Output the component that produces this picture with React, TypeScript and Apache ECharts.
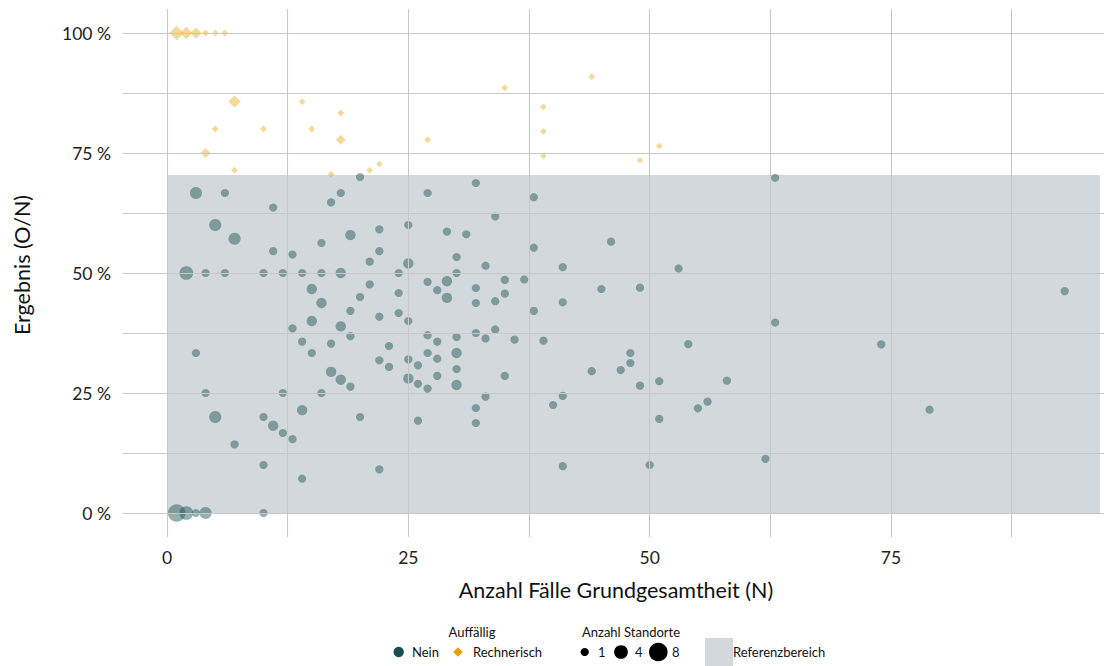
import React, { useEffect, useRef } from "react";
import * as echarts from "echarts";

// Auffällig = Nein : [N, O, Anzahl Standorte]
const neinN = [1, 2, 2, 3, 3, 3, 4, 4, 4, 5, 5, 6, 6, 7, 7, 10, 10, 10, 10, 11, 11, 11, 12, 12, 12, 13, 13, 13, 14, 14, 14, 14, 15, 15, 15, 16, 16, 16, 16, 17, 17, 17, 18, 18, 18, 18, 19, 19, 19, 19, 20, 20, 20, 21, 21, 22, 22, 22, 22, 22, 23, 23, 24, 24, 24, 25, 25, 25, 25, 25, 26, 26, 26, 27, 27, 27, 27, 27, 28, 28, 28, 28, 29, 29, 29, 30, 30, 30, 30, 30, 30, 31, 32, 32, 32, 32, 32, 32, 33, 33, 33, 34, 34, 34, 35, 35, 35, 36, 37, 38, 38, 38, 39, 40, 41, 41, 41, 41, 44, 45, 46, 47, 48, 48, 49, 49, 50, 51, 51, 53, 54, 55, 56, 58, 62, 63, 63, 74, 79, 93];
const neinO = [0, 0, 1, 0, 1, 2, 0, 1, 2, 1, 3, 3, 4, 1, 4, 0, 1, 2, 5, 2, 6, 7, 2, 3, 6, 2, 5, 7, 1, 3, 5, 7, 5, 6, 7, 4, 7, 8, 9, 5, 6, 11, 5, 7, 9, 12, 5, 7, 8, 11, 4, 9, 14, 10, 11, 2, 7, 9, 12, 13, 7, 8, 10, 11, 12, 7, 8, 10, 13, 15, 5, 7, 8, 7, 9, 10, 13, 18, 8, 9, 10, 13, 13, 14, 17, 8, 9, 10, 11, 15, 16, 18, 6, 7, 12, 14, 15, 22, 8, 12, 17, 13, 15, 21, 10, 16, 17, 13, 18, 16, 21, 25, 14, 9, 4, 10, 18, 21, 13, 21, 26, 14, 15, 16, 13, 23, 5, 10, 14, 27, 19, 12, 13, 16, 7, 25, 44, 26, 17, 43];
const neinSites = [7, 4, 4, 1, 1, 3, 3, 1, 1, 3, 3, 1, 1, 1, 3, 1, 1, 1, 1, 2, 1, 1, 1, 1, 1, 1, 1, 1, 1, 2, 1, 1, 1, 2, 2, 1, 2, 1, 1, 2, 1, 1, 2, 2, 2, 1, 1, 1, 1, 2, 1, 1, 1, 1, 1, 1, 1, 1, 1, 1, 1, 1, 1, 1, 1, 2, 1, 1, 2, 1, 1, 1, 1, 1, 1, 1, 1, 1, 1, 1, 1, 1, 2, 2, 1, 2, 1, 2, 1, 1, 1, 1, 1, 1, 1, 1, 1, 1, 1, 1, 1, 1, 1, 1, 1, 1, 1, 1, 1, 1, 1, 1, 1, 1, 1, 1, 1, 1, 1, 1, 1, 1, 1, 1, 1, 1, 1, 1, 1, 1, 1, 1, 1, 1, 1, 1, 1, 1, 1, 1];

// Auffällig = Rechnerisch : [N, O, Anzahl Standorte]
const rechN = [1, 2, 3, 4, 5, 6, 7, 14, 18, 5, 10, 15, 18, 4, 7, 17, 21, 22, 27, 35, 39, 39, 39, 44, 49, 51];
const rechO = [1, 2, 3, 4, 5, 6, 6, 12, 15, 4, 8, 12, 14, 3, 5, 12, 15, 16, 21, 31, 33, 31, 29, 40, 36, 39];
const rechSites = [7, 5, 4, 1, 1, 1, 5, 1, 1, 1, 1, 1, 3, 3, 1, 1, 1, 1, 1, 1, 1, 1, 1, 1, 1, 1];

// Referenzbereich
const refX = [0, 96.65];
const refY = [0, 70.4];

// Axes
const xTicks = [0, 25, 50, 75];
const yTicks = [0, 25, 50, 75, 100];
const xGrid = [0, 12.5, 25, 37.5, 50, 62.5, 75, 87.5];
const yGrid = [0, 12.5, 25, 37.5, 50, 62.5, 75, 87.5, 100];
const legendSizes = [1, 4, 8];

const TEAL = "#17504f";
const ORANGE = "#E69F00";
const REF = "rgba(82,102,118,0.255)";
const FONT = "Lato";

const circleD = (n: number) => Math.sqrt(28 + 40 * n);
const diamondD = (n: number) => 0.82 * circleD(n);

export default function App() {
  const ref = useRef<HTMLDivElement>(null);
  useEffect(() => {
    if (!ref.current) return;
    const chart = echarts.init(ref.current, undefined, { renderer: "svg" });
    const nein = neinN.map((n, i) => [n, (neinO[i] / n) * 100, neinSites[i]]);
    const rech = rechN.map((n, i) => [n, (rechO[i] / n) * 100, rechSites[i]]);

    const legendY = 652;
    const legendCx = [584.7, 621, 658.3];
    const legendTx = [598, 635, 672];
    const lg = { fontSize: 13, fontFamily: FONT, fill: "#111", verticalAlign: "middle" };

    chart.setOption({
      animation: false,
      textStyle: { fontFamily: FONT },
      grid: { left: 123, right: 0, top: 9, bottom: 129, containLabel: false },
      xAxis: {
        type: "value",
        min: -4.558,
        max: 97.07,
        axisLine: { show: false },
        axisTick: { show: false },
        splitLine: { show: false },
        axisLabel: {
          customValues: xTicks,
          fontSize: 17.5,
          color: "#222",
          fontFamily: FONT,
          margin: 11,
        },
      },
      yAxis: {
        type: "value",
        min: -5,
        max: 105,
        axisLine: { show: false },
        axisTick: { show: false },
        splitLine: { show: false },
        axisLabel: {
          customValues: yTicks,
          fontSize: 17.5,
          color: "#222",
          fontFamily: FONT,
          margin: 12,
          formatter: (v: number) => `${v} %`,
        },
      },
      series: [
        {
          type: "scatter",
          data: [],
          z: 1,
          silent: true,
          markLine: {
            silent: true,
            symbol: "none",
            label: { show: false },
            lineStyle: { color: "#c8c8c8", width: 1.1, type: "solid" },
            data: [
              ...xGrid.map((v) => ({ xAxis: v })),
              ...yGrid.map((v) => ({ yAxis: v })),
            ],
          },
        },
        {
          type: "scatter",
          data: [],
          z: 2,
          silent: true,
          markArea: {
            silent: true,
            itemStyle: { color: REF },
            data: [[{ xAxis: refX[0], yAxis: refY[0] }, { xAxis: refX[1], yAxis: refY[1] }]],
          },
        },
        {
          type: "scatter",
          name: "Nein",
          z: 3,
          data: nein,
          symbol: "circle",
          symbolSize: (v: number[]) => circleD(v[2]),
          itemStyle: { color: TEAL, opacity: 0.45 },
        },
        {
          type: "scatter",
          name: "Rechnerisch",
          z: 3,
          data: rech,
          symbol: "diamond",
          symbolSize: (v: number[]) => diamondD(v[2]),
          itemStyle: { color: ORANGE, opacity: 0.4 },
        },
      ],
      graphic: [
        {
          type: "text",
          x: 22,
          y: 265,
          rotation: Math.PI / 2,
          style: {
            text: "Ergebnis (O/N)",
            fontSize: 21.5,
            fontFamily: FONT,
            fill: "#111",
            align: "center",
            verticalAlign: "middle",
          },
        },
        {
          type: "text",
          x: 616,
          y: 590,
          style: {
            text: "Anzahl Fälle Grundgesamtheit (N)",
            fontSize: 21.5,
            fontFamily: FONT,
            fill: "#111",
            align: "center",
            verticalAlign: "middle",
          },
        },
        { type: "text", x: 472, y: 632, style: { ...lg, text: "Auffällig", align: "center" } },
        { type: "circle", shape: { cx: 398.7, cy: legendY, r: 5.2 }, style: { fill: TEAL } },
        { type: "text", x: 412, y: legendY, style: { ...lg, text: "Nein", align: "left" } },
        {
          type: "polygon",
          shape: { points: [[458, legendY - 4.8], [462.8, legendY], [458, legendY + 4.8], [453.2, legendY]] },
          style: { fill: ORANGE },
        },
        { type: "text", x: 473, y: legendY, style: { ...lg, text: "Rechnerisch", align: "left" } },
        { type: "text", x: 631, y: 632, style: { ...lg, text: "Anzahl Standorte", align: "center" } },
        ...legendSizes.map((s, i) => ({
          type: "circle",
          shape: { cx: legendCx[i], cy: legendY, r: circleD(s) / 2 },
          style: { fill: "#000" },
        })),
        ...legendSizes.map((s, i) => ({
          type: "text",
          x: legendTx[i],
          y: legendY,
          style: { ...lg, text: String(s), align: "left" },
        })),
        { type: "rect", shape: { x: 705, y: 638, width: 28, height: 28 }, style: { fill: REF } },
        { type: "text", x: 733, y: legendY, style: { ...lg, text: "Referenzbereich", align: "left" } },
      ],
    });
    return () => chart.dispose();
  }, []);
  return (
    <div
      ref={ref}
      style={{ position: "absolute", left: 0, top: 0, width: 1104, height: 666, background: "#fff" }}
    />
  );
}
